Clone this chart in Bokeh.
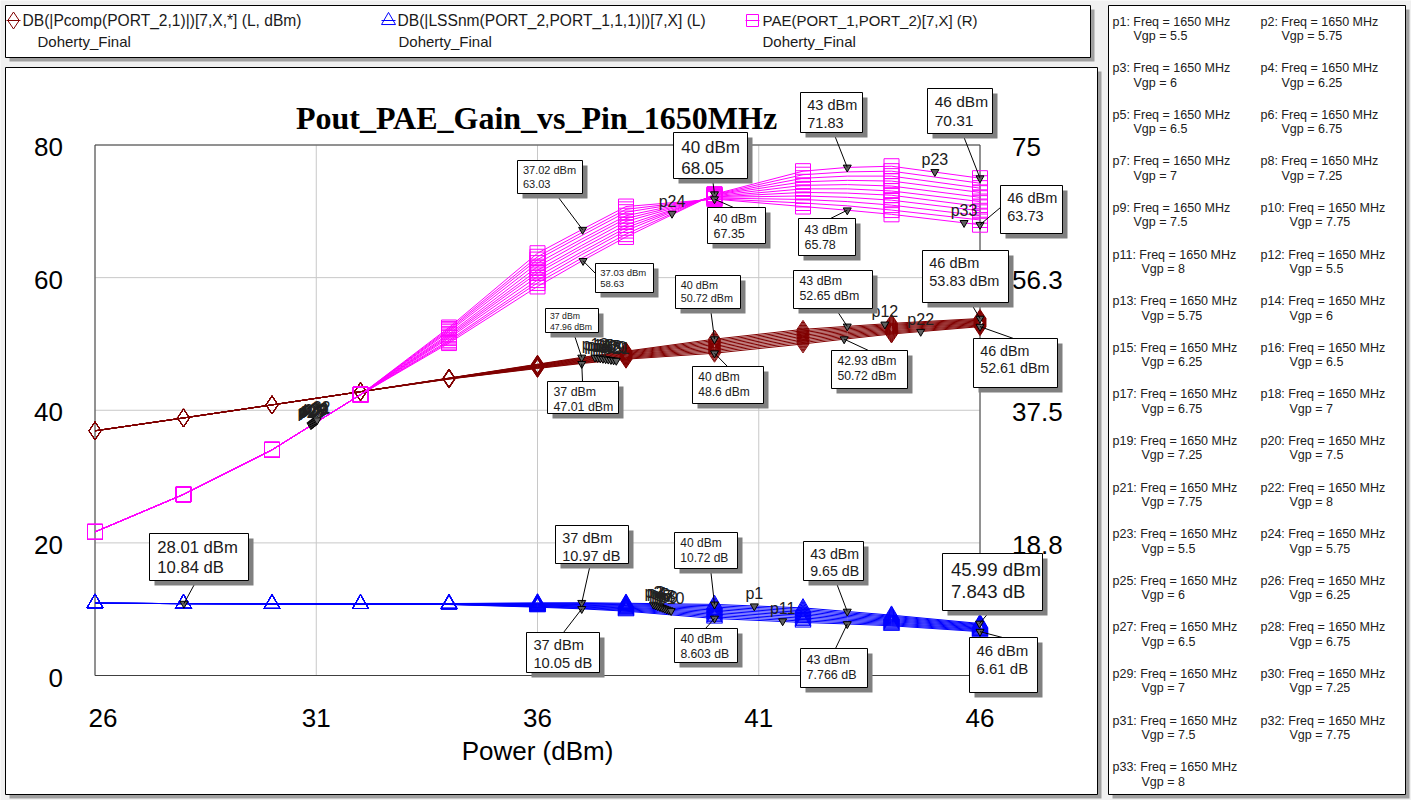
from bokeh.plotting import figure
from bokeh.models import (Range1d, Label, BoxAnnotation, Arrow, ColumnDataSource)
from bokeh.core.properties import value
from bokeh.embed import file_html
from bokeh.resources import INLINE

# ---------------- data ----------------
PIN = [26, 28, 30, 32, 34, 36, 37, 38, 40, 42, 43, 44, 46]
VGP = ["5.5", "5.75", "6", "6.25", "6.5", "6.75", "7", "7.25", "7.5", "7.75", "8"]

GAIN_55 = [10.90, 10.84, 10.81, 10.80, 10.85, 10.95, 10.97, 10.90, 10.72, 10.20, 9.65, 9.10, 7.84]
GAIN_575 = [10.90, 10.84, 10.81, 10.80, 10.84, 10.89, 10.88, 10.79, 10.52, 9.98, 9.46, 8.94, 7.72]
GAIN_6 = [10.90, 10.84, 10.81, 10.80, 10.83, 10.83, 10.79, 10.67, 10.31, 9.77, 9.28, 8.79, 7.60]
GAIN_625 = [10.90, 10.84, 10.81, 10.80, 10.82, 10.76, 10.70, 10.55, 10.10, 9.55, 9.09, 8.63, 7.48]
GAIN_65 = [10.90, 10.84, 10.81, 10.80, 10.80, 10.70, 10.61, 10.43, 9.89, 9.33, 8.90, 8.47, 7.35]
GAIN_675 = [10.90, 10.84, 10.81, 10.80, 10.79, 10.63, 10.51, 10.30, 9.67, 9.11, 8.71, 8.31, 7.23]
GAIN_7 = [10.90, 10.84, 10.81, 10.80, 10.77, 10.57, 10.42, 10.18, 9.46, 8.89, 8.52, 8.15, 7.11]
GAIN_725 = [10.90, 10.84, 10.81, 10.80, 10.76, 10.50, 10.33, 10.06, 9.24, 8.66, 8.34, 7.98, 6.98]
GAIN_75 = [10.90, 10.84, 10.81, 10.80, 10.74, 10.43, 10.24, 9.94, 9.03, 8.44, 8.15, 7.82, 6.86]
GAIN_775 = [10.90, 10.84, 10.81, 10.80, 10.72, 10.37, 10.14, 9.82, 8.82, 8.22, 7.96, 7.66, 6.73]
GAIN_8 = [10.90, 10.84, 10.81, 10.80, 10.70, 10.30, 10.05, 9.70, 8.60, 8.00, 7.77, 7.50, 6.61]

POUT_55 = [36.90, 38.84, 40.81, 42.80, 44.85, 46.95, 47.97, 48.90, 50.72, 52.20, 52.65, 53.10, 53.84]
POUT_575 = [36.90, 38.84, 40.81, 42.80, 44.84, 46.89, 47.88, 48.79, 50.52, 51.98, 52.46, 52.94, 53.72]
POUT_6 = [36.90, 38.84, 40.81, 42.80, 44.83, 46.83, 47.79, 48.67, 50.31, 51.77, 52.28, 52.79, 53.60]
POUT_625 = [36.90, 38.84, 40.81, 42.80, 44.82, 46.76, 47.70, 48.55, 50.10, 51.55, 52.09, 52.63, 53.48]
POUT_65 = [36.90, 38.84, 40.81, 42.80, 44.80, 46.70, 47.61, 48.43, 49.89, 51.33, 51.90, 52.47, 53.35]
POUT_675 = [36.90, 38.84, 40.81, 42.80, 44.79, 46.63, 47.51, 48.30, 49.67, 51.11, 51.71, 52.31, 53.23]
POUT_7 = [36.90, 38.84, 40.81, 42.80, 44.77, 46.57, 47.42, 48.18, 49.46, 50.89, 51.52, 52.15, 53.11]
POUT_725 = [36.90, 38.84, 40.81, 42.80, 44.76, 46.50, 47.33, 48.06, 49.24, 50.66, 51.34, 51.98, 52.98]
POUT_75 = [36.90, 38.84, 40.81, 42.80, 44.74, 46.43, 47.24, 47.94, 49.03, 50.44, 51.15, 51.82, 52.86]
POUT_775 = [36.90, 38.84, 40.81, 42.80, 44.72, 46.37, 47.14, 47.82, 48.82, 50.22, 50.96, 51.66, 52.73]
POUT_8 = [36.90, 38.84, 40.81, 42.80, 44.70, 46.30, 47.05, 47.70, 48.60, 50.00, 50.77, 51.50, 52.61]

PAE_55 = [20.3, 25.6, 31.9, 39.7, 47.0, 55.0, 58.6, 62.0, 68.05, 71.3, 71.83, 72.0, 70.31]
PAE_575 = [20.3, 25.6, 31.9, 39.7, 47.2, 55.5, 59.0, 62.4, 68.0, 70.8, 71.2, 71.3, 69.6]
PAE_6 = [20.3, 25.6, 31.9, 39.7, 47.4, 55.9, 59.5, 62.9, 67.95, 70.3, 70.6, 70.6, 68.9]
PAE_625 = [20.3, 25.6, 31.9, 39.7, 47.7, 56.4, 59.9, 63.3, 67.9, 69.8, 70.0, 69.9, 68.3]
PAE_65 = [20.3, 25.6, 31.9, 39.7, 47.9, 56.9, 60.4, 63.7, 67.8, 69.3, 69.4, 69.2, 67.6]
PAE_675 = [20.3, 25.6, 31.9, 39.7, 48.1, 57.3, 60.8, 64.2, 67.7, 68.8, 68.8, 68.5, 67.0]
PAE_7 = [20.3, 25.6, 31.9, 39.7, 48.3, 57.8, 61.3, 64.6, 67.65, 68.3, 68.2, 67.9, 66.3]
PAE_725 = [20.3, 25.6, 31.9, 39.7, 48.6, 58.3, 61.7, 65.0, 67.6, 67.8, 67.6, 67.2, 65.7]
PAE_75 = [20.3, 25.6, 31.9, 39.7, 48.8, 58.8, 62.2, 65.5, 67.5, 67.3, 67.0, 66.5, 65.0]
PAE_775 = [20.3, 25.6, 31.9, 39.7, 49.0, 59.2, 62.6, 65.9, 67.4, 66.8, 66.4, 65.8, 64.4]
PAE_8 = [20.3, 25.6, 31.9, 39.7, 49.2, 59.7, 63.03, 66.3, 67.35, 66.3, 65.78, 65.2, 63.73]

GAIN = [GAIN_55, GAIN_575, GAIN_6, GAIN_625, GAIN_65, GAIN_675, GAIN_7, GAIN_725, GAIN_75, GAIN_775, GAIN_8]
POUT = [POUT_55, POUT_575, POUT_6, POUT_625, POUT_65, POUT_675, POUT_7, POUT_725, POUT_75, POUT_775, POUT_8]
PAE = [PAE_55, PAE_575, PAE_6, PAE_625, PAE_65, PAE_675, PAE_7, PAE_725, PAE_75, PAE_775, PAE_8]

X_RANGE = (26, 46)
YL_RANGE = (0, 80)
YR_RANGE = (0, 75)
X_TICKS = [26, 31, 36, 41, 46]
YL_TICKS = [0, 20, 40, 60, 80]
YR_TICKS = [18.75, 37.5, 56.25, 75]
YR_LABELS = ["18.8", "37.5", "56.3", "75"]

TITLE = "Pout_PAE_Gain_vs_Pin_1650MHz"
X_LABEL = "Power (dBm)"
LEG_LINE1 = ["DB(|Pcomp(PORT_2,1)|)[7,X,*] (L, dBm)",
             "DB(|LSSnm(PORT_2,PORT_1,1,1)|)[7,X] (L)",
             "PAE(PORT_1,PORT_2)[7,X] (R)"]
LEG_LINE2 = ["Doherty_Final", "Doherty_Final", "Doherty_Final"]
FREQ = "1650 MHz"

# marker read-outs (Pin text, value text, trace)
RD_PIN = ["37.02", "37.03", "40", "40", "43", "43", "46", "46",
          "37", "37", "40", "40", "43", "42.93", "46", "46",
          "28.01", "37", "37", "40", "40", "43", "43", "45.99", "46"]
RD_VAL = ["63.03", "58.63", "68.05", "67.35", "71.83", "65.78", "70.31", "63.73",
          "47.96", "47.01", "50.72", "48.6", "52.65", "50.72", "53.83", "52.61",
          "10.84", "10.97", "10.05", "10.72", "8.603", "9.65", "7.766", "7.843", "6.61"]
RD_KIND = ["pae"] * 8 + ["pout"] * 8 + ["gain"] * 9

# swept markers p1..p33 (Pin, value)
PM_PIN = [40.90, 38.62, 38.67, 38.72, 38.77, 38.82, 38.87, 38.92, 38.97, 39.02, 41.54,
          43.85, 37.30, 37.36, 37.42, 37.48, 37.54, 37.60, 37.66, 37.72, 37.78, 44.66,
          44.98, 39.04, 30.88, 30.90, 30.92, 30.94, 30.96, 30.98, 31.00, 31.02, 45.64]
PM_VAL = [10.45, 10.70, 10.58, 10.46, 10.34, 10.22, 10.10, 9.98, 9.86, 9.74, 8.20,
          52.95, 47.96, 47.90, 47.84, 47.78, 47.72, 47.66, 47.60, 47.54, 47.48, 51.85,
          71.20, 65.30, 35.40, 35.50, 35.60, 35.70, 35.80, 35.90, 36.00, 36.10, 64.00]
PM_KIND = ["gain"] * 11 + ["pout"] * 11 + ["pae"] * 11

# ---------------- layout (canvas pixels, y down) ----------------
W, H = 1411, 800
FL, FR, FT, FB = 94.5, 979.5, 144.5, 675.0     # plot area
BG = "#f0f0f0"
SHADOW = "#808080"
POUT_C, GAIN_C, PAE_C = "#800000", "#0000ff", "#ff00ff"
SANS = "Liberation Sans"
X_TICK_DX = [8, 0, 0, 0, 0]

RD_BOX = [(517, 160, 582, 193), (595, 263, 653, 292), (673, 132, 747, 178), (707, 207, 765, 243),
          (800, 92, 862, 132), (798, 218, 855, 255), (927, 88, 992, 133), (1000, 185, 1062, 233),
          (545, 308, 598, 332), (547, 381, 618, 413), (675, 275, 740, 308), (692, 366, 763, 403),
          (793, 270, 872, 308), (831, 350, 907, 388), (922, 250, 1008, 302), (973, 338, 1057, 387),
          (149, 533, 248, 580), (555, 525, 628, 563), (526, 632, 599, 672), (674, 532, 737, 568),
          (674, 628, 737, 662), (803, 541, 863, 580), (800, 648, 867, 687), (942, 553, 1042, 610),
          (969, 637, 1037, 692)]
RD_FS = [11, 9.5, 17, 12.5, 14.5, 12.5, 15.5, 14.5,
         8.7, 12.4, 10.8, 12, 12.4, 12.2, 14.5, 14.3,
         16.7, 14.5, 14.7, 12, 12.2, 14.2, 12.5, 18.6, 15]
RD_LEAD = [(555, 193), (595, 273), (712, 178), (733, 207), (833, 132), (830, 218), (962, 133), (1000, 207),
           (573, 332), (582, 381), (710, 308), (727, 366), (835, 308), (868, 350), (970, 302), (1013, 338),
           (196, 580), (590, 563), (563, 632), (710, 568), (705, 628), (835, 580), (835, 648), (990, 610),
           (1002, 637)]


def cbox(l, t, r, b, fill=None, line=None, lw=1, level="annotation"):
    return BoxAnnotation(left=l, right=r, top=t, bottom=b,
                         left_units="canvas", right_units="canvas",
                         top_units="canvas", bottom_units="canvas",
                         fill_color=fill, fill_alpha=1.0,
                         line_color=line, line_alpha=1.0, line_width=lw, level=level)


def clabel(x, y, text, size, color="#1a1a1a", font=SANS, align="left",
           baseline="middle", style="normal"):
    return Label(x=x, y=y, x_units="canvas", y_units="canvas", text=text,
                 text_font=font, text_font_size=f"{size}px", text_color=color,
                 text_align=align, text_baseline=baseline, text_font_style=style)


# whole canvas is the frame; default ranges are canvas pixels
p = figure(width=W, height=H, output_backend="svg", toolbar_location=None,
           x_range=Range1d(0, W), y_range=Range1d(H, 0),
           x_axis_location=None, y_axis_location=None, min_border=0,
           background_fill_color=BG, border_fill_color=BG, outline_line_color=None)
p.xgrid.visible = False
p.ygrid.visible = False

# chart scales: place the plot area at FL..FR x FT..FB
kx = (FR - FL) / (X_RANGE[1] - X_RANGE[0])
kyl = (FB - FT) / (YL_RANGE[1] - YL_RANGE[0])
kyr = (FB - FT) / (YR_RANGE[1] - YR_RANGE[0])
p.extra_x_ranges = {"pin": Range1d(X_RANGE[0] - FL / kx, X_RANGE[0] + (W - FL) / kx)}
p.extra_y_ranges = {"left": Range1d(YL_RANGE[0] - (H - FB) / kyl, YL_RANGE[1] + FT / kyl),
                    "pae": Range1d(YR_RANGE[0] - (H - FB) / kyr, YR_RANGE[1] + FT / kyr)}

# panels behind everything
for (l, t, r, b) in [(5, 5, 1090, 57), (5, 67, 1097, 794), (1108, 5, 1405, 794)]:
    p.add_layout(cbox(l + 4, t + 4, r + 4, b + 4, fill="#a0a0a0", level="image"))
    p.add_layout(cbox(l, t, r, b, fill="white", line="black", level="image"))

# grid
p.segment(x0=X_TICKS, y0=[YL_RANGE[0]] * len(X_TICKS), x1=X_TICKS, y1=[YL_RANGE[1]] * len(X_TICKS),
          line_color="#c8c8c8", line_width=1, x_range_name="pin", y_range_name="left")
p.segment(x0=[X_RANGE[0]] * len(YL_TICKS), y0=YL_TICKS, x1=[X_RANGE[1]] * len(YL_TICKS), y1=YL_TICKS,
          line_color="#c8c8c8", line_width=1, x_range_name="pin", y_range_name="left")
# plot-area outline
p.quad(left=[X_RANGE[0]], right=[X_RANGE[1]], bottom=[YL_RANGE[0]], top=[YL_RANGE[1]],
       fill_color=None, line_color="#404040", line_width=1, x_range_name="pin", y_range_name="left")

# tick labels
xt_src = ColumnDataSource(dict(x=X_TICKS, y=[YL_RANGE[0]] * len(X_TICKS),
                               t=[str(t) for t in X_TICKS], dx=X_TICK_DX))
p.text("x", "y", text="t", source=xt_src, x_offset="dx",
       x_range_name="pin", y_range_name="left", y_offset=42,
       text_font=value(SANS), text_font_size="26px", text_color="black",
       text_align="center", text_baseline="middle")
p.text(x=[X_RANGE[0]] * len(YL_TICKS), y=YL_TICKS, text=[str(t) for t in YL_TICKS],
       x_range_name="pin", y_range_name="left", x_offset=-32, y_offset=2,
       text_font=value(SANS), text_font_size="26px", text_color="black",
       text_align="right", text_baseline="middle")
p.text(x=[X_RANGE[1]] * len(YR_TICKS), y=YR_TICKS, text=YR_LABELS,
       x_range_name="pin", y_range_name="pae", x_offset=32, y_offset=2,
       text_font=value(SANS), text_font_size="26px", text_color="black",
       text_align="left", text_baseline="middle")

# traces
MK_IDX = [i for i, x in enumerate(PIN) if x % 2 == 0]
for series, color, marker, size, rng in [(POUT, POUT_C, "diamond", 18, "left"),
                                         (GAIN, GAIN_C, "triangle", 16, "left"),
                                         (PAE, PAE_C, "square", 15, "pae")]:
    for ys in series:
        p.line(PIN, ys, line_color=color, line_width=1, x_range_name="pin", y_range_name=rng)
        p.scatter([PIN[i] for i in MK_IDX], [ys[i] for i in MK_IDX], marker=marker,
                  size=size, fill_color=None, line_color=color, line_width=1,
                  x_range_name="pin", y_range_name=rng)

# swept markers p1..p33
for kind, rng in [("gain", "left"), ("pout", "left"), ("pae", "pae")]:
    idx = [i for i, k in enumerate(PM_KIND) if k == kind]
    src = ColumnDataSource(dict(x=[PM_PIN[i] for i in idx], y=[PM_VAL[i] for i in idx],
                                t=[f"p{i + 1}" for i in idx]))
    p.scatter("x", "y", source=src, marker="inverted_triangle", size=8,
              fill_color="#606060", line_color="black", x_range_name="pin", y_range_name=rng)
    p.text("x", "y", text="t", source=src, text_font=value(SANS), text_font_size="16px",
           text_color="#202020", text_align="center", text_baseline="bottom",
           y_offset=-4, x_range_name="pin", y_range_name=rng)

# read-out markers
for kind, rng in [("pae", "pae"), ("pout", "left"), ("gain", "left")]:
    idx = [i for i, k in enumerate(RD_KIND) if k == kind]
    p.scatter([float(RD_PIN[i]) for i in idx], [float(RD_VAL[i]) for i in idx],
              marker="inverted_triangle", size=8, fill_color="#606060",
              line_color="black", x_range_name="pin", y_range_name=rng)

# read-out leader lines and boxes
for i in range(len(RD_PIN)):
    rng = "pae" if RD_KIND[i] == "pae" else "left"
    lx, ly = RD_LEAD[i]
    p.add_layout(Arrow(end=None, x_start=float(RD_PIN[i]), y_start=float(RD_VAL[i]),
                       start_units="data", x_end=lx, y_end=ly, end_units="canvas",
                       line_color="black", line_width=1, x_range_name="pin", y_range_name=rng))
SUFFIX = {"pae": "", "pout": " dBm", "gain": " dB"}
for i in range(len(RD_PIN)):
    l, t, r, b = RD_BOX[i]
    fs = RD_FS[i]
    p.add_layout(cbox(l + 5, t + 5, r + 5, b + 5, fill=SHADOW))
    p.add_layout(cbox(l, t, r, b, fill="white", line="black"))
    p.add_layout(clabel(l + 0.4 * fs + 1, t + 0.8 * fs + 1, f"{RD_PIN[i]} dBm", fs))
    p.add_layout(clabel(l + 0.4 * fs + 1, t + 2.0 * fs + 1, RD_VAL[i] + SUFFIX[RD_KIND[i]], fs))

# title and axis label
p.add_layout(clabel(536, 117, TITLE, 32, color="black", font="Liberation Serif",
                    align="center", style="bold"))
p.add_layout(clabel(537, 750, X_LABEL, 26, color="black", align="center"))

# legend
LEG_X = [13, 388, 752]
LEG_TX = [22, 397, 762]
LEG_T2X = [37, 398, 762]
LEG_MK = ["diamond", "triangle", "square"]
LEG_SZ = [17, 14, 12]
LEG_FS = [15.6, 15.6, 15]
for j in range(3):
    col = [POUT_C, GAIN_C, PAE_C][j]
    cx = LEG_X[j]
    p.segment(x0=[cx - 7], y0=[20], x1=[cx + 7], y1=[20], line_color=col, line_width=1)
    p.scatter(x=[cx], y=[20], marker=LEG_MK[j], size=LEG_SZ[j], fill_color=None,
              line_color=col, line_width=1)
    p.add_layout(clabel(LEG_TX[j], 20, LEG_LINE1[j], LEG_FS[j]))
    p.add_layout(clabel(LEG_T2X[j], 41, LEG_LINE2[j], 15))

# marker list panel
PANEL_X = [1112, 1260]
for k in range(33):
    col = k % 2
    row = k // 2
    x0 = PANEL_X[col]
    y0 = 21 + 46.6 * row
    p.add_layout(clabel(x0, y0, f"p{k + 1}: Freq = {FREQ}", 12.5, color="#202020"))
    off = 21 if k + 1 < 10 else 29
    p.add_layout(clabel(x0 + off, y0 + 14.5, f"Vgp = {VGP[k % 11]}", 12.5, color="#202020"))

open("out.html", "w").write(file_html(p, INLINE))
